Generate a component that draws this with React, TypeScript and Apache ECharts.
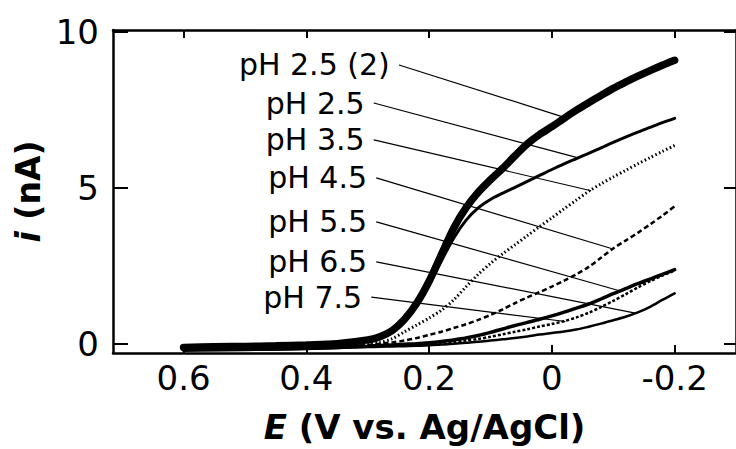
import React, { useEffect, useRef } from "react";
import * as echarts from "echarts";

// Potential grid (V vs. Ag/AgCl)
const E = [0.6, 0.55, 0.5, 0.45, 0.4, 0.35, 0.3, 0.28, 0.26, 0.24, 0.22, 0.2, 0.18, 0.16, 0.14, 0.12, 0.1, 0.08, 0.06, 0.04, 0.02, 0, -0.02, -0.04, -0.06, -0.08, -0.1, -0.12, -0.14, -0.16, -0.18, -0.2];

// Currents (nA)
const pH25b = [-0.12, -0.1, -0.09, -0.07, -0.04, 0.0, 0.12, 0.22, 0.42, 0.78, 1.3, 2.0, 2.85, 3.7, 4.35, 4.85, 5.25, 5.62, 6.02, 6.4, 6.7, 6.95, 7.22, 7.48, 7.72, 7.95, 8.18, 8.38, 8.57, 8.75, 8.92, 9.08];
const pH25 = [-0.15, -0.14, -0.12, -0.1, -0.08, -0.04, 0.08, 0.18, 0.36, 0.7, 1.2, 1.88, 2.65, 3.38, 3.95, 4.35, 4.62, 4.82, 5.01, 5.2, 5.39, 5.58, 5.76, 5.93, 6.1, 6.27, 6.45, 6.62, 6.78, 6.93, 7.08, 7.22];
const pH35 = [-0.18, -0.17, -0.16, -0.15, -0.13, -0.08, 0.0, 0.04, 0.16, 0.38, 0.6, 0.82, 1.07, 1.4, 1.82, 2.22, 2.57, 2.88, 3.17, 3.46, 3.75, 4.03, 4.32, 4.6, 4.88, 5.12, 5.34, 5.55, 5.76, 5.96, 6.16, 6.35];
const pH45 = [-0.2, -0.19, -0.18, -0.16, -0.14, -0.1, -0.04, 0.0, 0.04, 0.1, 0.18, 0.28, 0.38, 0.5, 0.62, 0.76, 0.92, 1.1, 1.3, 1.48, 1.65, 1.83, 2.02, 2.22, 2.46, 2.75, 3.05, 3.3, 3.55, 3.82, 4.1, 4.4];
const pH55 = [-0.2, -0.19, -0.18, -0.17, -0.15, -0.12, -0.08, -0.06, -0.04, -0.02, 0.0, 0.03, 0.07, 0.12, 0.18, 0.26, 0.36, 0.47, 0.58, 0.68, 0.78, 0.89, 1.01, 1.14, 1.27, 1.43, 1.6, 1.76, 1.92, 2.07, 2.22, 2.37];
const pH65 = [-0.22, -0.21, -0.2, -0.19, -0.17, -0.14, -0.11, -0.1, -0.09, -0.08, -0.07, -0.05, -0.03, 0.0, 0.03, 0.06, 0.1, 0.14, 0.18, 0.23, 0.29, 0.34, 0.39, 0.45, 0.54, 0.64, 0.75, 0.86, 1.0, 1.18, 1.4, 1.61];
const pH75 = [-0.2, -0.19, -0.18, -0.17, -0.15, -0.12, -0.09, -0.08, -0.07, -0.06, -0.05, -0.03, 0.0, 0.05, 0.1, 0.15, 0.22, 0.3, 0.38, 0.46, 0.55, 0.63, 0.72, 0.84, 0.99, 1.17, 1.37, 1.58, 1.8, 2.0, 2.18, 2.34];

// Annotation labels and their leader lines
const labelNames = ["pH 2.5 (2)", "pH 2.5", "pH 3.5", "pH 4.5", "pH 5.5", "pH 6.5", "pH 7.5"];
const labelE = [0.249, 0.29, 0.29, 0.286, 0.286, 0.286, 0.294];
const labelI = [8.93, 7.71, 6.53, 5.31, 3.9, 2.62, 1.49];
const pointE = [-0.019, -0.043, -0.064, -0.097, -0.113, -0.136, -0.022];
const pointI = [7.26, 5.95, 4.9, 3.05, 1.68, 0.98, 0.71];

// Ticks
const xTicks = [0.6, 0.4, 0.2, 0, -0.2];
const yTicks = [0, 5, 10];

const FONT = "DejaVu Sans";

export default function App() {
  const ref = useRef<HTMLDivElement>(null);
  useEffect(() => {
    if (!ref.current) return;
    const chart = echarts.init(ref.current, undefined, { renderer: "svg" });
    const curve = (vals: number[], width: number, type: any, z = 3) => ({
      type: "line",
      data: E.map((e, k) => [e, vals[k]]),
      smooth: 0.3,
      showSymbol: false,
      symbol: "none",
      silent: true,
      z,
      lineStyle: { color: "#000", width, type, cap: type === "solid" ? "round" : "butt" },
    });
    const axisLine = { show: true, onZero: false, lineStyle: { color: "#000", width: 2.5 } };
    const option: any = {
      animation: false,
      backgroundColor: "#fff",
      grid: { left: 113, top: 30, right: -2, bottom: 96 },
      xAxis: [
        {
          type: "value",
          min: -0.3,
          max: 0.715,
          inverse: true,
          position: "bottom",
          axisLine,
          axisTick: { inside: true, length: 8, lineStyle: { color: "#000", width: 2 }, customValues: xTicks },
          axisLabel: { customValues: xTicks, color: "#000", fontSize: 34, fontFamily: FONT, margin: 8 },
          splitLine: { show: false },
          name: "{it|E} (V vs. Ag/AgCl)",
          nameLocation: "middle",
          nameGap: 57,
          nameTextStyle: {
            color: "#000",
            fontSize: 34,
            fontWeight: "bold",
            fontFamily: FONT,
            rich: { it: { fontStyle: "italic", fontWeight: "bold", fontSize: 34, fontFamily: FONT, color: "#000" } },
          },
        },
        {
          type: "value",
          min: -0.3,
          max: 0.715,
          inverse: true,
          position: "top",
          axisLine,
          axisTick: { inside: true, length: 8, lineStyle: { color: "#000", width: 2 }, customValues: xTicks },
          axisLabel: { show: false },
          splitLine: { show: false },
        },
      ],
      yAxis: [
        {
          type: "value",
          min: -0.3,
          max: 10.05,
          position: "left",
          axisLine,
          axisTick: { inside: true, length: 15, lineStyle: { color: "#000", width: 2 }, customValues: yTicks },
          axisLabel: { customValues: yTicks, color: "#000", fontSize: 34, fontFamily: FONT, margin: 14 },
          splitLine: { show: false },
          name: "{it|i} (nA)",
          nameLocation: "middle",
          nameGap: 63,
          nameTextStyle: {
            color: "#000",
            fontSize: 33,
            fontWeight: "bold",
            fontFamily: FONT,
            rich: { it: { fontStyle: "italic", fontWeight: "bold", fontSize: 33, fontFamily: FONT, color: "#000" } },
          },
        },
        {
          type: "value",
          min: -0.3,
          max: 10.05,
          position: "right",
          axisLine,
          axisTick: { inside: true, length: 12, lineStyle: { color: "#000", width: 2 }, customValues: yTicks },
          axisLabel: { show: false },
          splitLine: { show: false },
        },
      ],
      series: [
        curve(pH65, 2.5, "solid"),
        curve(pH75, 2.5, [3, 2]),
        curve(pH55, 3.5, "solid"),
        curve(pH45, 2.5, [5, 3]),
        curve(pH35, 3, [1.5, 2.5]),
        curve(pH25, 3, "solid"),
        curve(pH25b, 7.5, "solid", 4),
        ...labelNames.map((n, k) => ({
          type: "line",
          name: n + " leader",
          data: [
            [labelE[k], labelI[k]],
            [pointE[k], pointI[k]],
          ],
          showSymbol: false,
          symbol: "none",
          silent: true,
          z: 5,
          lineStyle: { color: "#000", width: 1.2 },
        })),
        {
          type: "scatter",
          data: labelNames.map((n, k) => [labelE[k], labelI[k], n]),
          symbolSize: 0.5,
          itemStyle: { color: "#000", opacity: 1 },
          silent: true,
          z: 6,
          label: {
            show: true,
            position: "left",
            distance: 9,
            formatter: (p: any) => p.data[2],
            color: "#000",
            opacity: 1,
            fontSize: 30,
            fontFamily: FONT,
          },
        },
      ],
    };
    chart.setOption(option);
    return () => chart.dispose();
  }, []);
  return (
    <div
      ref={ref}
      style={{ position: "fixed", left: 0, top: 0, width: 736, height: 449, background: "#fff" }}
    />
  );
}
